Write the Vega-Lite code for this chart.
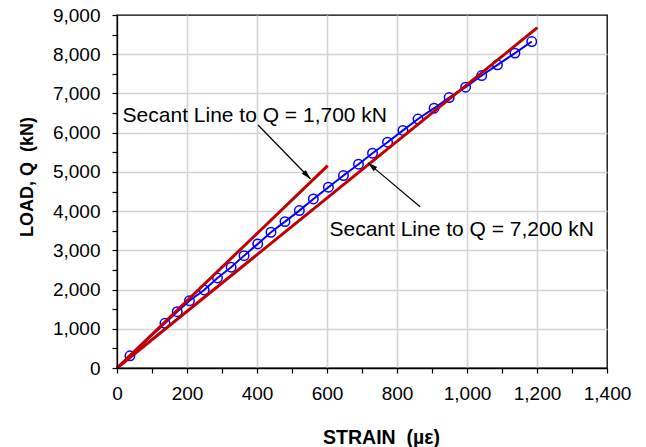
{
  "$schema": "https://vega.github.io/schema/vega-lite/v6.json",
  "width": 490,
  "height": 353,
  "autosize": "none",
  "padding": {"left": 117, "top": 15, "right": 39, "bottom": 79},
  "background": "white",
  "config": {
    "view": {"stroke": "#000", "strokeWidth": 1.3},
    "font": "Liberation Sans",
    "axis": {
      "labelFont": "Liberation Sans",
      "titleFont": "Liberation Sans",
      "labelColor": "#000",
      "titleColor": "#000",
      "tickColor": "#000",
      "domainColor": "#000",
      "domainWidth": 1.3,
      "tickWidth": 1.2,
      "gridColor": "#d4d4d4",
      "gridWidth": 1.6
    }
  },
  "resolve": {"axis": {"x": "independent", "y": "independent"}},
  "datasets": {
    "measured": [
      {"strain": 37, "load": 310},
      {"strain": 137, "load": 1140},
      {"strain": 172, "load": 1436},
      {"strain": 207, "load": 1717},
      {"strain": 249, "load": 1990},
      {"strain": 287, "load": 2296},
      {"strain": 326, "load": 2569},
      {"strain": 363, "load": 2865},
      {"strain": 402, "load": 3163},
      {"strain": 440, "load": 3461},
      {"strain": 480, "load": 3732},
      {"strain": 521, "load": 4013},
      {"strain": 561, "load": 4311},
      {"strain": 604, "load": 4609},
      {"strain": 647, "load": 4906},
      {"strain": 690, "load": 5196},
      {"strain": 730, "load": 5476},
      {"strain": 773, "load": 5757},
      {"strain": 817, "load": 6058},
      {"strain": 860, "load": 6348},
      {"strain": 906, "load": 6624},
      {"strain": 949, "load": 6895},
      {"strain": 996, "load": 7160},
      {"strain": 1042, "load": 7457},
      {"strain": 1087, "load": 7730},
      {"strain": 1137, "load": 8028},
      {"strain": 1185, "load": 8324}
    ],
    "secant": [
      {"series": "Q = 1,700 kN", "strain": 0, "load": 0},
      {"series": "Q = 1,700 kN", "strain": 602, "load": 5158},
      {"series": "Q = 7,200 kN", "strain": 0, "load": 0},
      {"series": "Q = 7,200 kN", "strain": 1201, "load": 8677}
    ],
    "arrows": [
      {"arrow": "a1", "strain": 403, "load": 6196, "strain2": 553, "load2": 4819},
      {"arrow": "a2", "strain": 866, "load": 4113, "strain2": 717, "load2": 5230}
    ],
    "notes": [
      {"label": "Secant Line to Q = 1,700 kN", "strain": 16, "load": 6280},
      {"label": "Secant Line to Q = 7,200 kN", "strain": 607, "load": 3366}
    ]
  },
  "layer": [
    {
      "data": {"name": "secant"},
      "mark": {"type": "line", "color": "#c00000", "strokeWidth": 3, "strokeCap": "butt", "opacity": 0},
      "encoding": {
        "x": {
          "field": "strain", "type": "quantitative",
          "scale": {"domain": [0, 1400], "nice": false, "zero": false},
          "axis": {
            "orient": "bottom",
            "values": [200, 400, 600, 800, 1000, 1200],
            "grid": false,
            "labels": false,
            "domain": false,
            "tickSize": -353,
            "tickColor": "#d4d4d4",
            "tickWidth": 1.6,
            "title": null,
            "zindex": 0
          }
        },
        "y": {
          "field": "load", "type": "quantitative",
          "scale": {"domain": [0, 9000], "nice": false, "zero": false},
          "axis": {
            "orient": "left",
            "values": [1000, 2000, 3000, 4000, 5000, 6000, 7000, 8000],
            "grid": false,
            "labels": false,
            "domain": false,
            "tickSize": -490,
            "tickColor": "#d4d4d4",
            "tickWidth": 1.6,
            "title": null,
            "zindex": 0
          }
        },
        "detail": {"field": "series", "type": "nominal"}
      }
    },
    {
      "data": {"name": "measured"},
      "mark": {"type": "line", "color": "#0000ff", "strokeWidth": 2},
      "encoding": {
        "x": {
          "field": "strain", "type": "quantitative",
          "axis": {
            "orient": "bottom",
            "values": [0, 200, 400, 600, 800, 1000, 1200, 1400],
            "format": ",d",
            "grid": false,
            "tickSize": 5,
            "labelFontSize": 19,
            "labelPadding": 11,
            "labelFlush": false,
            "labelOverlap": false,
            "title": "STRAIN \u00a0(µε)",
            "titleFontSize": 19.5,
            "titleFontWeight": "bold",
            "titleX": 264,
            "titleY": 75,
            "titleBaseline": "alphabetic",
            "titleAlign": "center",
            "zindex": 1
          }
        },
        "y": {
          "field": "load", "type": "quantitative",
          "axis": {
            "orient": "left",
            "values": [0, 1000, 2000, 3000, 4000, 5000, 6000, 7000, 8000, 9000],
            "format": ",d",
            "grid": false,
            "tickSize": 5,
            "labelFontSize": 19,
            "labelPadding": 12,
            "labelFlush": false,
            "labelOverlap": false,
            "title": "LOAD, Q \u00a0(kN)",
            "titleFontSize": 18,
            "titleFontWeight": "bold",
            "titleAngle": -90,
            "titleX": -84.5,
            "titleY": 161.5,
            "titleBaseline": "alphabetic",
            "titleAlign": "center",
            "zindex": 1
          }
        }
      }
    },
    {
      "data": {"name": "measured"},
      "mark": {"type": "point", "shape": "circle", "filled": false, "color": "#0000ff", "size": 90, "strokeWidth": 1.5, "opacity": 1},
      "encoding": {
        "x": {
          "field": "strain", "type": "quantitative",
          "axis": {
            "orient": "bottom",
            "values": [100, 300, 500, 700, 900, 1100, 1300],
            "grid": false,
            "labels": false,
            "domain": false,
            "tickSize": 5,
            "title": null,
            "zindex": 1
          }
        },
        "y": {
          "field": "load", "type": "quantitative",
          "axis": {
            "orient": "left",
            "values": [500, 1500, 2500, 3500, 4500, 5500, 6500, 7500, 8500],
            "grid": false,
            "labels": false,
            "domain": false,
            "tickSize": 5,
            "title": null,
            "zindex": 1
          }
        }
      }
    },
    {
      "data": {"name": "secant"},
      "mark": {"type": "line", "color": "#c00000", "strokeWidth": 3, "strokeCap": "butt"},
      "encoding": {
        "x": {"field": "strain", "type": "quantitative", "axis": null},
        "y": {"field": "load", "type": "quantitative", "axis": null},
        "detail": {"field": "series", "type": "nominal"}
      }
    },
    {
      "data": {"name": "arrows"},
      "mark": {"type": "rule", "color": "#000", "strokeWidth": 1.2},
      "encoding": {
        "x": {"field": "strain", "type": "quantitative", "axis": null},
        "y": {"field": "load", "type": "quantitative", "axis": null},
        "x2": {"field": "strain2"},
        "y2": {"field": "load2"}
      }
    },
    {
      "data": {"name": "arrows"},
      "transform": [{"filter": "datum.arrow == 'a1'"}],
      "mark": {"type": "point", "shape": "M0,0 L-0.28,1 L0.28,1 Z", "filled": true, "color": "#000", "size": 380, "angle": 136, "opacity": 1},
      "encoding": {
        "x": {"field": "strain2", "type": "quantitative", "axis": null},
        "y": {"field": "load2", "type": "quantitative", "axis": null}
      }
    },
    {
      "data": {"name": "arrows"},
      "transform": [{"filter": "datum.arrow == 'a2'"}],
      "mark": {"type": "point", "shape": "M0,0 L-0.28,1 L0.28,1 Z", "filled": true, "color": "#000", "size": 380, "angle": 310, "opacity": 1},
      "encoding": {
        "x": {"field": "strain2", "type": "quantitative", "axis": null},
        "y": {"field": "load2", "type": "quantitative", "axis": null}
      }
    },
    {
      "data": {"name": "notes"},
      "mark": {"type": "text", "align": "left", "baseline": "alphabetic", "fontSize": 21, "font": "Liberation Sans", "color": "#000"},
      "encoding": {
        "x": {"field": "strain", "type": "quantitative", "axis": null},
        "y": {"field": "load", "type": "quantitative", "axis": null},
        "text": {"field": "label"}
      }
    }
  ]
}
